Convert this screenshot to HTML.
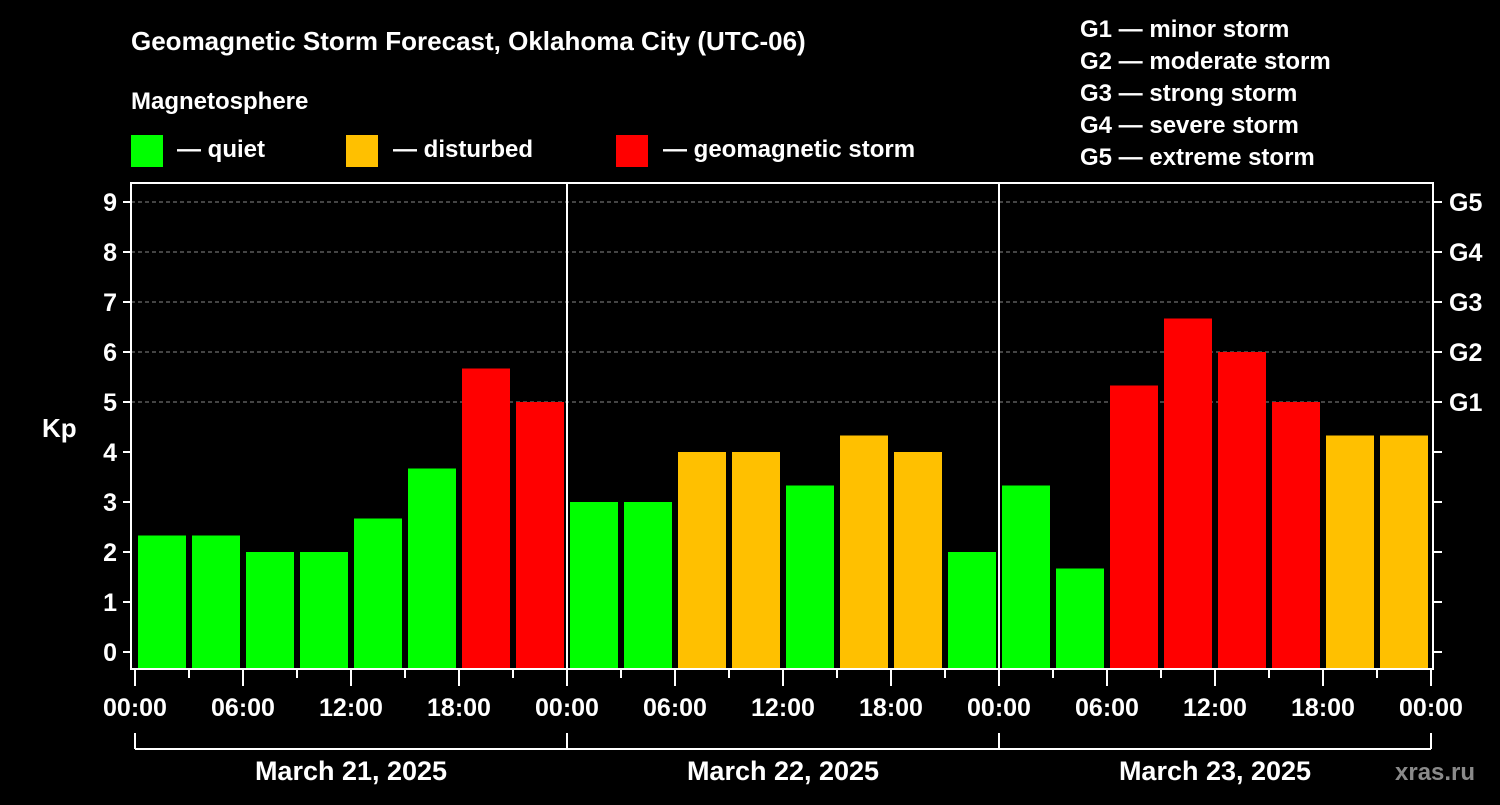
<!DOCTYPE html>
<html><head><meta charset="utf-8"><style>
body{margin:0;background:#000;width:1500px;height:800px;overflow:hidden}
svg text{font-family:"Liberation Sans",sans-serif;font-weight:bold;fill:#fff}
</style></head><body>
<svg id="c" width="1500" height="800">
<text x="131" y="50" font-size="26">Geomagnetic Storm Forecast, Oklahoma City (UTC-06)</text>
<text x="131" y="109" font-size="24">Magnetosphere</text>
<g><rect x="131" y="135" width="32" height="32" fill="#00ff00"/><text x="177" y="157" font-size="24">— quiet</text></g>
<g><rect x="346" y="135" width="32" height="32" fill="#ffc000"/><text x="393" y="157" font-size="24">— disturbed</text></g>
<g><rect x="616" y="135" width="32" height="32" fill="#ff0000"/><text x="663" y="157" font-size="24">— geomagnetic storm</text></g>
<g font-size="24">
<text x="1080" y="37">G1 — minor storm</text><text x="1080" y="69">G2 — moderate storm</text><text x="1080" y="101">G3 — strong storm</text><text x="1080" y="133">G4 — severe storm</text><text x="1080" y="165">G5 — extreme storm</text></g>
<text x="42" y="437" font-size="26">Kp</text>
<text x="1395" y="780" font-size="24" fill="#888" style="fill:#8a8a8a">xras.ru</text>
<g id="grid"></g><g id="bars"></g><g id="axes"></g>
</svg>
<script>
const kpValues=[2.33,2.33,2,2,2.67,3.67,5.67,5, 3,3,4,4,3.33,4.33,4,2, 3.33,1.67,5.33,6.67,6,5,4.33,4.33];
const dayLabels=["March 21, 2025","March 22, 2025","March 23, 2025"];
const yTicks=[0,1,2,3,4,5,6,7,8,9];
const gLabels=["G1","G2","G3","G4","G5"];
const hourLabels=["00:00","06:00","12:00","18:00"];
const NS="http://www.w3.org/2000/svg";
const X0=135,DAY=432,L=131,R=1433,T=183,B=669;
const xh=h=>X0+h*DAY/24;
const y=v=>652-50*v;
function mk(p,tag,a,txt){const e=document.createElementNS(NS,tag);for(const k in a)e.setAttribute(k,a[k]);if(txt!=null)e.textContent=txt;document.getElementById(p).appendChild(e);return e;}
yTicks.forEach(v=>{
 if(v>=5){const g=mk('grid','line',{x1:L,x2:R,y1:y(v),y2:y(v),stroke:'#888','stroke-dasharray':'4,3','stroke-width':1});
 
 }
 mk('axes','line',{x1:L-8,x2:L,y1:y(v),y2:y(v),stroke:'#fff','stroke-width':2});
 mk('axes','line',{x1:R,x2:R+9,y1:y(v),y2:y(v),stroke:'#fff','stroke-width':2});
 const t=mk('axes','text',{x:L-14,y:y(v)+9,'font-size':25,'text-anchor':'end'},v);
 
 
});
gLabels.forEach((g,i)=>{const t=mk('axes','text',{x:R+16,y:y(5+i)+9,'font-size':25},g);
 
 });
kpValues.forEach((v,i)=>{
 const c=v>=5?'#ff0000':(v>=4?'#ffc000':'#00ff00');
 const r=mk('bars','rect',{x:xh(i*3)+3,width:48,y:y(v),height:B-y(v),fill:c});
 
 
});
mk('axes','rect',{x:L,y:T,width:R-L,height:B-T,fill:'none',stroke:'#fff','stroke-width':2});
for(let d=1;d<dayLabels.length;d++)mk('axes','line',{x1:xh(d*24),x2:xh(d*24),y1:T,y2:B,stroke:'#fff','stroke-width':2});
for(let h=0;h<=72;h+=3){const maj=h%6==0;mk('axes','line',{x1:xh(h),x2:xh(h),y1:B,y2:B+(maj?17:9),stroke:'#fff','stroke-width':2});}
for(let h=0;h<=72;h+=6){const t=mk('axes','text',{x:xh(h),y:716,'font-size':25,'text-anchor':'middle'},hourLabels[(h/6)%4]);
 
 }
mk('axes','line',{x1:xh(0),x2:xh(72),y1:749,y2:749,stroke:'#fff','stroke-width':2});
for(let d=0;d<=dayLabels.length;d++)mk('axes','line',{x1:xh(d*24),x2:xh(d*24),y1:733,y2:749,stroke:'#fff','stroke-width':2});
dayLabels.forEach((s,d)=>{const t=mk('axes','text',{x:xh(d*24+12),y:780,'font-size':27,'text-anchor':'middle'},s);
 
 });
</script>
</body></html>
